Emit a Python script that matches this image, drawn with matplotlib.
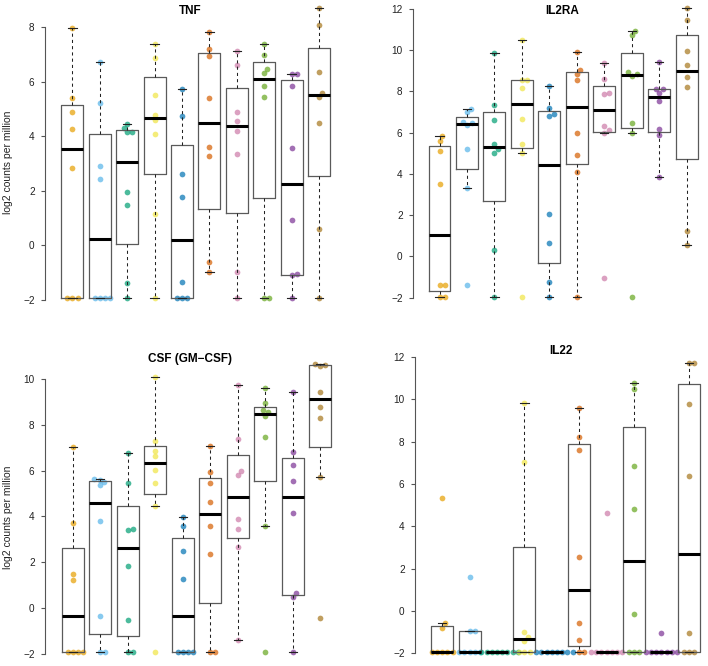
import numpy as np
import matplotlib
matplotlib.use("Agg")
import matplotlib.pyplot as plt

plt.rcParams['font.family'] = ['Liberation Sans', 'DejaVu Sans']

# log2 counts per million, 10 groups x 8 samples per gene
tnf = [
    [7.96, 5.42, 4.89, 4.25, 2.82, -1.95, -1.95, -1.95],
    [6.71, 5.22, 2.92, 2.44, -1.95, -1.95, -1.95, -1.95],
    [4.45, 4.30, 4.15, 4.15, 1.95, 1.46, -1.38, -1.95],
    [7.39, 6.86, 5.52, 4.77, 4.58, 4.08, 1.13, -1.95],
    [5.72, 4.76, 2.63, 1.76, -1.35, -1.95, -1.95, -1.95],
    [7.84, 7.19, 6.94, 5.41, 3.59, 3.29, -0.62, -0.97],
    [7.14, 6.62, 4.89, 4.55, 4.19, 3.35, -0.98, -1.95],
    [7.39, 6.97, 6.47, 6.31, 5.86, 5.45, -1.95, -1.95],
    [6.30, 6.30, 5.86, 3.56, 0.91, -1.07, -1.10, -1.95],
    [8.70, 8.10, 6.37, 5.60, 5.45, 4.50, 0.58, -1.95],
]
il2ra = [
    [5.81, 5.60, 5.10, 3.50, -1.39, -1.39, -1.95, -1.95],
    [7.13, 7.00, 6.50, 6.45, 6.35, 5.18, 3.29, -1.39],
    [9.87, 7.34, 6.63, 5.44, 5.20, 5.03, 0.31, -1.95],
    [10.50, 8.55, 8.53, 8.15, 6.66, 5.44, 5.02, -1.95],
    [8.27, 7.21, 6.90, 6.80, 2.06, 0.63, -1.24, -1.95],
    [9.90, 9.02, 8.82, 8.53, 5.98, 4.89, 4.10, -1.95],
    [9.37, 8.58, 7.92, 7.89, 6.31, 6.10, 5.98, -1.03],
    [10.92, 10.74, 8.94, 8.82, 8.76, 6.44, 5.98, -1.95],
    [9.44, 8.13, 8.13, 7.94, 7.52, 6.15, 5.87, 3.84],
    [12.05, 11.47, 9.97, 9.27, 8.71, 8.19, 1.21, 0.55],
]
csf = [
    [7.05, 3.73, 1.47, 1.22, -1.95, -1.95, -1.95, -1.95],
    [5.63, 5.60, 5.50, 5.36, 3.82, -0.35, -1.95, -1.95],
    [6.78, 5.45, 3.45, 3.41, 1.83, -0.53, -1.95, -1.95],
    [10.12, 7.32, 6.88, 6.65, 6.05, 5.47, 4.46, -1.95],
    [3.96, 3.60, 2.50, 1.25, -1.95, -1.95, -1.95, -1.95],
    [7.08, 5.95, 5.44, 4.65, 3.58, 2.34, -1.95, -1.95],
    [9.75, 7.39, 6.00, 5.82, 3.88, 3.44, 2.67, -1.42],
    [9.63, 8.95, 8.66, 8.59, 8.40, 7.48, 3.58, -1.95],
    [9.45, 6.84, 6.27, 5.57, 4.14, 0.64, 0.46, -1.95],
    [10.67, 10.63, 10.60, 9.46, 8.80, 8.30, 5.74, -0.46],
]
il22 = [
    [5.32, -0.59, -0.81, -1.95, -1.95, -1.95, -1.95, -1.95],
    [1.62, -0.93, -0.95, -1.95, -1.95, -1.95, -1.95, -1.95],
    [-1.95, -1.95, -1.95, -1.95, -1.95, -1.95, -1.95, -1.95],
    [9.82, 7.03, -1.00, -1.23, -1.42, -1.95, -1.95, -1.95],
    [-1.95, -1.95, -1.95, -1.95, -1.95, -1.95, -1.95, -1.95],
    [9.58, 8.20, 7.62, 2.57, -0.59, -1.39, -1.95, -1.95],
    [4.61, -1.95, -1.95, -1.95, -1.95, -1.95, -1.95, -1.95],
    [10.76, 10.48, 6.86, 4.82, -0.13, -1.95, -1.95, -1.95],
    [-1.06, -1.95, -1.95, -1.95, -1.95, -1.95, -1.95, -1.95],
    [11.70, 11.70, 9.78, 6.39, -1.03, -1.95, -1.95, -1.95],
]

genes = ["TNF", "IL2RA", "CSF (GM\u2212CSF)", "IL22"]
gene_data = [tnf, il2ra, csf, il22]
yticks = [np.arange(-2, 9, 2), np.arange(-2, 13, 2), np.arange(-2, 11, 2), np.arange(-2, 13, 2)]
group_colors = ["#E69F00", "#56B4E9", "#009E73", "#F0E442", "#0072B2",
                "#D55E00", "#CC79A7", "#66A61E", "#7B3294", "#A6761D"]

W, H = 708, 666
# pixel layout of each panel: axis x, centre of box 1, px per group,
# (tick value, pixel row) pairs for two ticks
layout = [
    (45, 72.4, 27.4, (8, 27.3), (-2, 299.7)),
    (413, 439.5, 27.45, (12, 8.7), (-2, 297.7)),
    (45, 72.7, 27.5, (10, 379.3), (-2, 653.5)),
    (415, 442.2, 27.4, (12, 357), (-2, 653.3)),
]
title_pos = [(190, 11), (562, 11), (190, 359), (561, 351)]


def r_boxstats(vals):
    # Tukey hinges like R's fivenum / boxplot.stats
    x = np.sort(np.asarray(vals, float))
    n = len(x)
    n4 = np.floor((n + 3) / 2) / 2
    d = np.array([1, n4, (n + 1) / 2, n + 1 - n4, n]) - 1
    f = 0.5 * (x[np.floor(d).astype(int)] + x[np.ceil(d).astype(int)])
    iqr = f[3] - f[1]
    inside = x[(x >= f[1] - 1.5 * iqr) & (x <= f[3] + 1.5 * iqr)]
    return dict(med=f[2], q1=f[1], q3=f[3], whislo=inside.min(), whishi=inside.max())


def swarm_offsets(ax, ys, d):
    py = ax.transData.transform(np.column_stack([np.ones(len(ys)), ys]))[:, 1]
    order = np.argsort(ys, kind="stable")
    placed = []
    off = np.zeros(len(ys))
    for i in order:
        cands = [0.0]
        for dx, qy in placed:
            dy = abs(py[i] - qy)
            if dy < d:
                w = np.sqrt(d * d - dy * dy)
                cands += [dx + w, dx - w]
        best = 0.0
        for c in sorted(cands, key=lambda c: (abs(c), -c)):
            if all((c - dx) ** 2 + (py[i] - qy) ** 2 >= d * d - 1e-6 for dx, qy in placed):
                best = c
                break
        off[i] = best
        placed.append((best, py[i]))
    return off


fig = plt.figure(figsize=(W / 100, H / 100), dpi=100)

for k in range(4):
    data = gene_data[k]
    ax_x, x1, sx, (va, pa), (vb, pb) = layout[k]
    sy = (pb - pa) / (va - vb)
    allv = np.concatenate(data)
    lo, hi = allv.min(), allv.max()
    pad = 0.04 * (hi - lo)
    ylo, yhi = lo - pad, hi + pad
    xlo, xhi = 1 - (x1 - ax_x) / sx, 10.9
    top_px = pa - (yhi - va) * sy
    bot_px = pa + (va - ylo) * sy
    width_px = (xhi - xlo) * sx
    ax = fig.add_axes([ax_x / W, 1 - bot_px / H, width_px / W, (bot_px - top_px) / H])
    ax.set_xlim(xlo, xhi)
    ax.set_ylim(ylo, yhi)
    ax.patch.set_alpha(0)

    for g, vals in enumerate(data):
        off = swarm_offsets(ax, vals, 5.2) / sx
        ax.scatter(g + 1 + off, vals, s=17, color=group_colors[g], alpha=0.7,
                   linewidths=0, zorder=2)

    stats = [r_boxstats(v) for v in data]
    ax.bxp(stats, positions=np.arange(1, 11), widths=0.8, showfliers=False,
           capwidths=0.3,
           boxprops=dict(color="#5a5a5a", linewidth=0.9),
           medianprops=dict(color="black", linewidth=2.2, solid_capstyle="butt"),
           whiskerprops=dict(color="#222222", linewidth=0.75, linestyle=(0, (3, 3))),
           capprops=dict(color="#222222", linewidth=0.8),
           zorder=3)

    for s in ["top", "right", "bottom"]:
        ax.spines[s].set_visible(False)
    ax.spines["left"].set_bounds(yticks[k][0], yticks[k][-1])
    ax.spines["left"].set_color("#555555")
    ax.spines["left"].set_linewidth(0.8)
    ax.set_xticks([])
    ax.set_yticks(yticks[k])
    ax.tick_params(axis="y", length=3, width=0.8, color="#555555", pad=4.5,
                   labelsize=7.2, labelcolor="#222222")
    ax.set_xlim(xlo, xhi)
    ax.set_ylim(ylo, yhi)

    tx, ty = title_pos[k]
    fig.text(tx / W, 1 - ty / H, genes[k], ha="center", va="center",
             fontsize=8.5, fontweight="bold")

fig.text(8 / W, 1 - 162 / H, "log2 counts per million", rotation=90,
         ha="center", va="center", fontsize=7.5, color="#222222")
fig.text(8 / W, 1 - 517 / H, "log2 counts per million", rotation=90,
         ha="center", va="center", fontsize=7.5, color="#222222")

fig.savefig("out.png", dpi=100)
